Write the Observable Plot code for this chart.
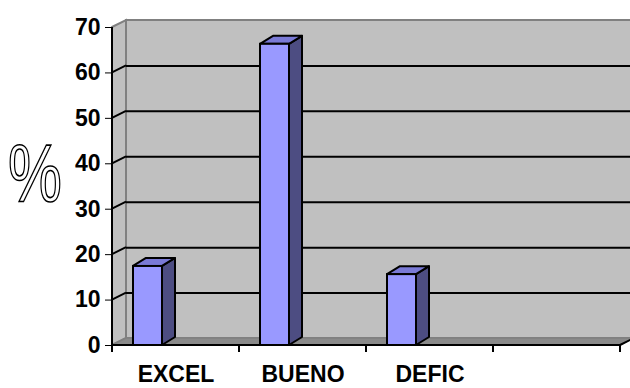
<!DOCTYPE html>
<html>
<head>
<meta charset="utf-8">
<script src="https://cdn.jsdelivr.net/npm/d3@7"></script>
<script src="https://cdn.jsdelivr.net/npm/@observablehq/plot@0.6"></script>
<style>
  html, body { margin: 0; padding: 0; background: #fff; }
  #chart svg { display: block; }
</style>
</head>
<body>
<div id="chart"></div>
<script>
// Category slots along the floor (the last slot is left empty)
const categories = ["EXCEL", "BUENO", "DEFIC", ""];
// Rated categories and their share, in percent
const ratings = ["EXCEL", "BUENO", "DEFIC"];
const percentages = [17.4, 66.3, 15.6];
// Value axis ticks
const yTicks = [0, 10, 20, 30, 40, 50, 60, 70];

const data = ratings.map((category, i) => ({category, value: percentages[i]}));

// Depth of the box (walls) and of the columns, in pixels
const WALL_DX = 14, WALL_DY = -7;
const COL_DX = 13, COL_DY = -8;
const COL_INSET_LEFT = 21, COL_INSET_RIGHT = 77;

const FONT = "'Liberation Sans', Arial, Helvetica, sans-serif";

function bandwidthOf(sx, dim) {
  if (typeof sx.bandwidth === "function") return sx.bandwidth();
  if (typeof sx.bandwidth === "number") return sx.bandwidth;
  return (dim.width - dim.marginLeft - dim.marginRight) / categories.length;
}

// Back wall, side wall and floor of the 3-D box
function box(index, scales, values, dim) {
  const y = scales.y;
  const x0 = dim.marginLeft, x1 = dim.width - dim.marginRight;
  const yb = y(0), yt = y(yTicks[yTicks.length - 1]);
  const g = d3.create("svg:g");
  g.append("rect")
    .attr("x", x0 + WALL_DX).attr("y", yt + WALL_DY)
    .attr("width", x1 - x0).attr("height", yb - yt)
    .attr("fill", "#c0c0c0").attr("stroke", "#808080").attr("stroke-width", 2);
  g.append("path")
    .attr("d", `M${x0},${yt}L${x0 + WALL_DX},${yt + WALL_DY}L${x0 + WALL_DX},${yb + WALL_DY}L${x0},${yb}Z`)
    .attr("fill", "#c0c0c0").attr("stroke", "#808080").attr("stroke-width", 2);
  g.append("path")
    .attr("d", `M${x0},${yb}L${x0 + WALL_DX},${yb + WALL_DY}L${x1 + WALL_DX},${yb + WALL_DY}L${x1},${yb}Z`)
    .attr("fill", "#8a8a8a").attr("stroke", "#808080").attr("stroke-width", 1.5);
  return g.node();
}

// Diagonal grid segments on the side wall
function sideGrid(index, scales, values, dim) {
  const y = scales.y;
  const x0 = dim.marginLeft;
  const g = d3.create("svg:g").attr("stroke", "black").attr("stroke-width", 2);
  for (const t of yTicks.slice(1, -1)) {
    g.append("line")
      .attr("x1", x0).attr("y1", y(t))
      .attr("x2", x0 + WALL_DX).attr("y2", y(t) + WALL_DY);
  }
  return g.node();
}

// Top and side faces of each column
function columnFaces(index, scales, values, dim) {
  const sx = scales.x, y = scales.y;
  const bw = bandwidthOf(sx, dim);
  const g = d3.create("svg:g").attr("stroke", "black").attr("stroke-width", 2).attr("stroke-linejoin", "round");
  for (const d of data) {
    const xa = sx(d.category) + COL_INSET_LEFT;
    const xb = sx(d.category) + bw - COL_INSET_RIGHT;
    const y0 = y(0), yv = y(d.value);
    g.append("path")
      .attr("d", `M${xb},${y0}L${xb + COL_DX},${y0 + COL_DY}L${xb + COL_DX},${yv + COL_DY}L${xb},${yv}Z`)
      .attr("fill", "#4d4d82");
    g.append("path")
      .attr("d", `M${xa},${yv}L${xa + COL_DX},${yv + COL_DY}L${xb + COL_DX},${yv + COL_DY}L${xb},${yv}Z`)
      .attr("fill", "#7a7ad6");
  }
  return g.node();
}

// Front axis lines, category separators and the floor's right edge
function frontAxes(index, scales, values, dim) {
  const sx = scales.x, y = scales.y;
  const bw = bandwidthOf(sx, dim);
  const x0 = dim.marginLeft, x1 = dim.width - dim.marginRight;
  const yb = y(0), yt = y(yTicks[yTicks.length - 1]);
  const g = d3.create("svg:g").attr("stroke", "black").attr("stroke-width", 2);
  g.append("line").attr("x1", x0).attr("x2", x0).attr("y1", yt).attr("y2", yb + 1);
  g.append("line").attr("x1", x0).attr("x2", x1).attr("y1", yb).attr("y2", yb);
  const bounds = categories.map((c) => sx(c)).concat([sx(categories[categories.length - 1]) + bw]);
  for (const bx of bounds) {
    g.append("line").attr("x1", bx).attr("x2", bx).attr("y1", yb).attr("y2", yb + 7);
  }
  g.append("line").attr("x1", x1).attr("y1", yb).attr("x2", x1 + WALL_DX).attr("y2", yb + WALL_DY);
  return g.node();
}

// Outlined percent sign used as the value-axis title
function percentTitle(index, scales, values, dim) {
  const t = d3.create("svg:text")
    .attr("transform", `translate(${dim.marginLeft - 77},${dim.marginTop + 175}) scale(0.74,1)`)
    .attr("text-anchor", "middle")
    .attr("font-family", FONT)
    .attr("font-weight", "normal")
    .attr("font-size", 82)
    .attr("fill", "white")
    .attr("stroke", "black")
    .attr("stroke-width", 1.6)
    .text("%");
  return t.node();
}

const chart = Plot.plot({
  width: 630,
  height: 388,
  marginLeft: 112,
  marginRight: 10,
  marginTop: 27,
  marginBottom: 43,
  style: {
    fontFamily: FONT,
    fontSize: "23px",
    fontWeight: "bold",
    color: "black",
    background: "white"
  },
  x: {
    type: "band",
    domain: categories,
    padding: 0,
    tickSize: 0,
    tickPadding: 20,
    label: null
  },
  y: {
    domain: [0, 70],
    ticks: yTicks,
    tickSize: 7,
    tickPadding: 5,
    label: null
  },
  marks: [
    box,
    Plot.ruleY(yTicks.slice(1, -1), {stroke: "black", strokeWidth: 2, dx: WALL_DX, dy: WALL_DY}),
    sideGrid,
    columnFaces,
    Plot.barY(data, {
      x: "category",
      y: "value",
      insetLeft: COL_INSET_LEFT,
      insetRight: COL_INSET_RIGHT,
      fill: "#9999ff",
      stroke: "black",
      strokeWidth: 2
    }),
    frontAxes,
    percentTitle
  ]
});

document.getElementById("chart").appendChild(chart);
</script>
</body>
</html>
